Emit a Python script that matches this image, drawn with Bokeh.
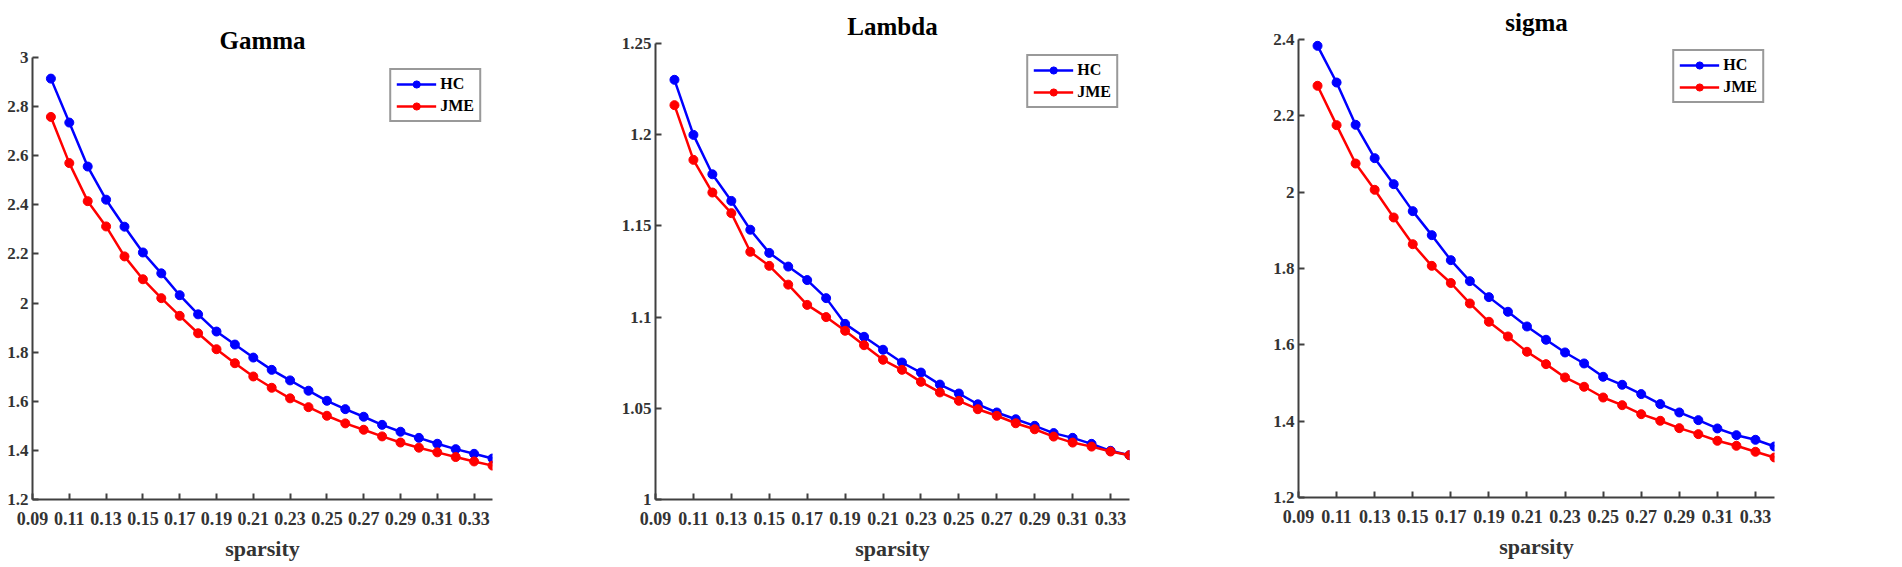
from bokeh.plotting import figure
from bokeh.layouts import row, column
from bokeh.models import FixedTicker, Legend, LegendItem, Range1d, Spacer
from bokeh.embed import file_html
from bokeh.resources import INLINE

# ---------------- data ----------------
sparsity = [0.10, 0.11, 0.12, 0.13, 0.14, 0.15, 0.16, 0.17, 0.18, 0.19, 0.20, 0.21, 0.22,
            0.23, 0.24, 0.25, 0.26, 0.27, 0.28, 0.29, 0.30, 0.31, 0.32, 0.33, 0.34]

x_ticks = [0.09, 0.11, 0.13, 0.15, 0.17, 0.19, 0.21, 0.23, 0.25, 0.27, 0.29, 0.31, 0.33]
x_tick_labels = ["0.09", "0.11", "0.13", "0.15", "0.17", "0.19", "0.21", "0.23", "0.25",
                 "0.27", "0.29", "0.31", "0.33"]

gamma_hc = [2.914, 2.735, 2.556, 2.421, 2.311, 2.206, 2.121, 2.032, 1.954, 1.884, 1.831, 1.778,
            1.728, 1.685, 1.643, 1.602, 1.568, 1.537, 1.504, 1.476, 1.451, 1.427, 1.405, 1.386, 1.367]
gamma_jme = [2.758, 2.570, 2.415, 2.312, 2.190, 2.097, 2.020, 1.948, 1.877, 1.812, 1.755, 1.701,
             1.655, 1.612, 1.576, 1.541, 1.510, 1.484, 1.457, 1.432, 1.411, 1.392, 1.373, 1.355, 1.338]

lambda_hc = [1.2301, 1.1999, 1.1783, 1.1637, 1.1479, 1.1352, 1.1277, 1.1203, 1.1104, 1.0963,
             1.0892, 1.0821, 1.0751, 1.0696, 1.0630, 1.0581, 1.0522, 1.0477, 1.0440, 1.0404,
             1.0364, 1.0338, 1.0305, 1.0267, 1.0243]
lambda_jme = [1.2162, 1.1862, 1.1683, 1.1570, 1.1358, 1.1281, 1.1178, 1.1067, 1.1000, 1.0925,
              1.0846, 1.0766, 1.0711, 1.0645, 1.0587, 1.0541, 1.0495, 1.0459, 1.0418, 1.0385,
              1.0345, 1.0312, 1.0290, 1.0263, 1.0243]

sigma_hc = [2.3834, 2.2873, 2.1765, 2.0891, 2.0210, 1.9503, 1.8874, 1.8219, 1.7669, 1.7250,
            1.6866, 1.6481, 1.6133, 1.5800, 1.5512, 1.5163, 1.4953, 1.4709, 1.4447, 1.4228,
            1.4027, 1.3809, 1.3633, 1.3512, 1.3337]
sigma_jme = [2.2787, 2.1756, 2.0751, 2.0062, 1.9337, 1.8637, 1.8070, 1.7620, 1.7084, 1.6604,
             1.6219, 1.5818, 1.5494, 1.5145, 1.4901, 1.4620, 1.4419, 1.4183, 1.4010, 1.3817,
             1.3660, 1.3486, 1.3355, 1.3198, 1.3049]

gamma_y_ticks = [1.2, 1.4, 1.6, 1.8, 2.0, 2.2, 2.4, 2.6, 2.8, 3.0]
gamma_y_labels = ["1.2", "1.4", "1.6", "1.8", "2", "2.2", "2.4", "2.6", "2.8", "3"]
lambda_y_ticks = [1.0, 1.05, 1.1, 1.15, 1.2, 1.25]
lambda_y_labels = ["1", "1.05", "1.1", "1.15", "1.2", "1.25"]
sigma_y_ticks = [1.2, 1.4, 1.6, 1.8, 2.0, 2.2, 2.4]
sigma_y_labels = ["1.2", "1.4", "1.6", "1.8", "2", "2.2", "2.4"]

series_names = ["HC", "JME"]
series_colors = ["#0000ff", "#ff0000"]
titles = ["Gamma", "Lambda", "sigma"]
x_label = "sparsity"

FONT = "Liberation Serif"
AXIS_COLOR = "#404040"
TEXT_COLOR = "#333333"
X_START, X_END = 0.09, 0.34
TOP = 35
BOTTOM = 65


def make_panel(title, hc, jme, yr, yticks, ylabels, left, frame_w, right, frame_h, leg_margin):
    p = figure(frame_width=frame_w, frame_height=frame_h,
               x_range=Range1d(X_START, X_END), y_range=Range1d(yr[0], yr[1]),
               output_backend="svg", toolbar_location=None,
               min_border_left=left, min_border_right=right,
               min_border_top=TOP, min_border_bottom=BOTTOM)
    p.outline_line_color = None
    p.grid.visible = False
    p.background_fill_color = "white"
    p.border_fill_color = "white"

    p.title.text = title
    p.title.text_font = FONT
    p.title.text_font_style = "bold"
    p.title.text_font_size = "25px"
    p.title.text_color = "black"
    p.title.align = "center"
    p.title.standoff = 8

    p.xaxis.ticker = FixedTicker(ticks=x_ticks)
    p.xaxis.major_label_overrides = dict(zip(x_ticks, x_tick_labels))
    p.yaxis.ticker = FixedTicker(ticks=yticks)
    p.yaxis.major_label_overrides = dict(zip(yticks, ylabels))

    for ax in (p.xaxis[0], p.yaxis[0]):
        ax.axis_line_width = 2
        ax.axis_line_color = AXIS_COLOR
        ax.major_tick_line_color = AXIS_COLOR
        ax.major_tick_line_width = 2
        ax.major_tick_in = 6
        ax.major_tick_out = 0
        ax.minor_tick_line_color = None
        ax.major_label_text_font = FONT
        ax.major_label_text_font_style = "bold"
        ax.major_label_text_color = TEXT_COLOR
    p.xaxis.major_label_text_font_size = "18px"
    p.yaxis.major_label_text_font_size = "17px"
    p.xaxis.major_label_standoff = 12
    p.yaxis.major_label_standoff = 4

    p.xaxis.axis_label = x_label
    p.xaxis.axis_label_text_font = FONT
    p.xaxis.axis_label_text_font_style = "bold"
    p.xaxis.axis_label_text_font_size = "22px"
    p.xaxis.axis_label_text_color = TEXT_COLOR
    p.xaxis.axis_label_standoff = 8

    items = []
    for name, color, ys in zip(series_names, series_colors, (hc, jme)):
        ln = p.line(sparsity, ys, line_color=color, line_width=2.5)
        sc = p.scatter(sparsity, ys, marker="circle", size=9, fill_color=color, line_color=color)
        items.append(LegendItem(label=name, renderers=[ln, sc]))

    legend = Legend(items=items, location="top_right", margin=leg_margin,
                    padding=5, spacing=4, glyph_width=40, glyph_height=18,
                    label_height=18, label_standoff=4,
                    label_text_font=FONT, label_text_font_style="bold",
                    label_text_font_size="16px", label_text_color="black",
                    border_line_color="#333333", border_line_width=2,
                    background_fill_color="white", background_fill_alpha=1.0)
    p.add_layout(legend)
    return p


p1 = make_panel(titles[0], gamma_hc, gamma_jme, (1.2, 3.0), gamma_y_ticks, gamma_y_labels,
                left=32, frame_w=460, right=108, frame_h=442, leg_margin=11)
p2 = make_panel(titles[1], lambda_hc, lambda_jme, (1.0, 1.25), lambda_y_ticks, lambda_y_labels,
                left=55, frame_w=474, right=111, frame_h=456, leg_margin=11)
p3 = make_panel(titles[2], sigma_hc, sigma_jme, (1.2, 2.4), sigma_y_ticks, sigma_y_labels,
                left=58, frame_w=476, right=100, frame_h=458, leg_margin=10)

layout = row(column(Spacer(width=10, height=20), p1),
             column(Spacer(width=10, height=6), p2),
             column(Spacer(width=10, height=2), p3))
open("out.html", "w").write(file_html(layout, INLINE))
